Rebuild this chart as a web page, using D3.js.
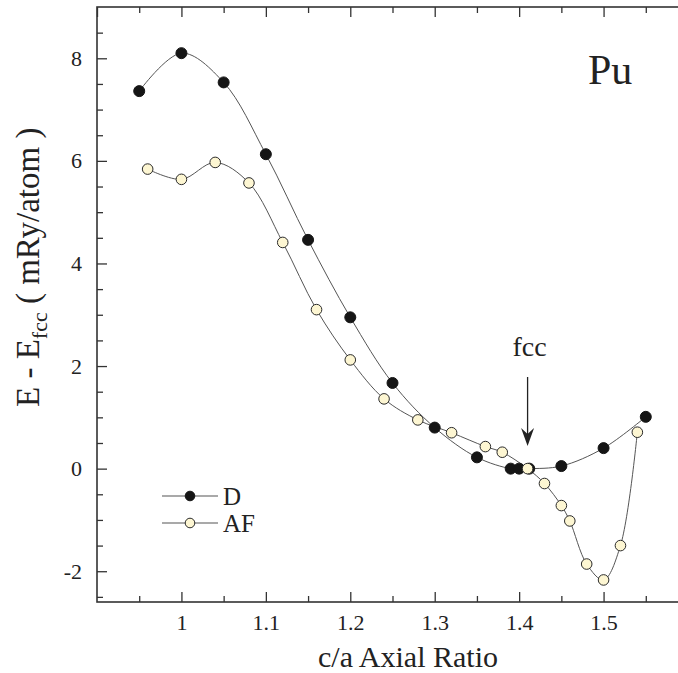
<!DOCTYPE html>
<html>
<head>
<meta charset="utf-8">
<script src="https://cdn.jsdelivr.net/npm/d3@7"></script>
<style>
  html, body { margin: 0; padding: 0; background: #fff; }
  svg { display: block; font-family: "Liberation Serif", "Times New Roman", serif; }
</style>
</head>
<body>
<svg id="chart" width="678" height="673"></svg>
<script>
// c/a axial ratio and total energy relative to fcc (mRy/atom) for Pu
const ratioD  = [0.95, 1.00, 1.05, 1.10, 1.15, 1.20, 1.25, 1.30, 1.35, 1.39, 1.40, 1.412, 1.45, 1.50, 1.55];
const energyD = [7.36, 8.10, 7.53, 6.13, 4.46, 2.95, 1.67, 0.80, 0.22, 0.00, 0.00, 0.00, 0.05, 0.40, 1.01];

const ratioAF  = [0.96, 1.00, 1.04, 1.08, 1.12, 1.16, 1.20, 1.24, 1.28, 1.32, 1.36, 1.38, 1.41, 1.43, 1.45, 1.46, 1.48, 1.50, 1.52, 1.54];
const energyAF = [5.84, 5.64, 5.97, 5.57, 4.41, 3.10, 2.12, 1.36, 0.95, 0.70, 0.43, 0.32, 0.00, -0.29, -0.72, -1.02, -1.86, -2.17, -1.50, 0.71];

const xMajorTicks = [1.0, 1.1, 1.2, 1.3, 1.4, 1.5];
const xTickLabels = ["1", "1.1", "1.2", "1.3", "1.4", "1.5"];
const yMajorTicks = [-2, 0, 2, 4, 6, 8];
const yTickLabels = ["-2", "0", "2", "4", "6", "8"];

const seriesNames = ["D", "AF"];
const fccRatio = 1.41;

const svg = d3.select("#chart");
const margin = { left: 97, top: 7, right: 688, bottom: 602 };

const x = d3.scaleLinear().domain([0.9, 1.6]).range([margin.left, margin.right]);
const y = d3.scaleLinear().domain([-2.6, 9]).range([margin.bottom, margin.top]);

const axisColor = "#333";
const majorLen = 10, minorLen = 6;

// minor tick positions
const xMinor = d3.range(0.95, 1.6, 0.1).map(v => +v.toFixed(2));
const yMinor = d3.range(-2.5, 9, 0.5).filter(v => Math.abs(v % 2) > 1e-9);

function styleAxis(g) {
  g.select(".domain").remove();
  g.selectAll(".tick line").attr("stroke", axisColor).attr("stroke-width", 1.3);
  g.selectAll(".tick text").attr("fill", "#222").attr("font-size", 22)
    .attr("font-family", "Liberation Serif, Times New Roman, serif");
}

// bottom axis: inward ticks, labels below
svg.append("g").attr("transform", `translate(0,${margin.bottom})`)
  .call(d3.axisBottom(x).tickValues(xMajorTicks).tickSize(-majorLen).tickPadding(12)
    .tickFormat((d, i) => xTickLabels[i]))
  .call(styleAxis);
svg.append("g").attr("transform", `translate(0,${margin.bottom})`)
  .call(d3.axisBottom(x).tickValues(xMinor).tickSize(-minorLen).tickFormat(""))
  .call(styleAxis);

// top axis: inward ticks, no labels
svg.append("g").attr("transform", `translate(0,${margin.top})`)
  .call(d3.axisTop(x).tickValues(xMajorTicks.concat([0.9, 1.6])).tickSize(-majorLen).tickFormat(""))
  .call(styleAxis);
svg.append("g").attr("transform", `translate(0,${margin.top})`)
  .call(d3.axisTop(x).tickValues(xMinor).tickSize(-minorLen).tickFormat(""))
  .call(styleAxis);

// left axis
svg.append("g").attr("transform", `translate(${margin.left},0)`)
  .call(d3.axisLeft(y).tickValues(yMajorTicks).tickSize(-majorLen).tickPadding(15)
    .tickFormat((d, i) => yTickLabels[i]))
  .call(styleAxis);
svg.append("g").attr("transform", `translate(${margin.left},0)`)
  .call(d3.axisLeft(y).tickValues(yMinor).tickSize(-minorLen).tickFormat(""))
  .call(styleAxis);

// right axis
svg.append("g").attr("transform", `translate(${margin.right},0)`)
  .call(d3.axisRight(y).tickValues(yMajorTicks).tickSize(-majorLen).tickFormat(""))
  .call(styleAxis);
svg.append("g").attr("transform", `translate(${margin.right},0)`)
  .call(d3.axisRight(y).tickValues(yMinor).tickSize(-minorLen).tickFormat(""))
  .call(styleAxis);

// frame
svg.append("rect")
  .attr("x", margin.left).attr("y", margin.top)
  .attr("width", margin.right - margin.left).attr("height", margin.bottom - margin.top)
  .attr("fill", "none").attr("stroke", axisColor).attr("stroke-width", 1.6);

// smooth curves through the data
const line = d3.line().x(d => x(d[0])).y(d => y(d[1])).curve(d3.curveCatmullRom.alpha(0.5));
const dataD = ratioD.map((r, i) => [r, energyD[i]]);
const dataAF = ratioAF.map((r, i) => [r, energyAF[i]]);

svg.append("path").datum(dataD).attr("d", line)
  .attr("fill", "none").attr("stroke", "#555").attr("stroke-width", 1);
svg.append("path").datum(dataAF).attr("d", line)
  .attr("fill", "none").attr("stroke", "#555").attr("stroke-width", 1);

const styleD = { fill: "#151515", stroke: "#151515" };
const styleAF = { fill: "#fdf6d2", stroke: "#2a2a2a" };

svg.append("g").selectAll("circle").data(dataD).join("circle")
  .attr("cx", d => x(d[0])).attr("cy", d => y(d[1])).attr("r", 5.5)
  .attr("fill", styleD.fill).attr("stroke", styleD.stroke).attr("stroke-width", 1);
svg.append("g").selectAll("circle").data(dataAF).join("circle")
  .attr("cx", d => x(d[0])).attr("cy", d => y(d[1])).attr("r", 5.3)
  .attr("fill", styleAF.fill).attr("stroke", styleAF.stroke).attr("stroke-width", 1);

// legend
const legend = svg.append("g");
[styleD, styleAF].forEach((s, i) => {
  const ly = 496 + i * 27;
  legend.append("line").attr("x1", 162).attr("x2", 218).attr("y1", ly).attr("y2", ly)
    .attr("stroke", "#555").attr("stroke-width", 1.2);
  legend.append("circle").attr("cx", 190).attr("cy", ly).attr("r", 4.8)
    .attr("fill", s.fill).attr("stroke", s.stroke).attr("stroke-width", 1);
  legend.append("text").attr("x", 223).attr("y", ly + 9).attr("font-size", 25)
    .attr("fill", "#222").text(seriesNames[i]);
});

// element label
svg.append("text").attr("x", 588).attr("y", 84).attr("font-size", 42)
  .attr("fill", "#222").text("Pu");

// fcc marker arrow
const ax = x(fccRatio);
svg.append("text").attr("x", ax + 2).attr("y", 356).attr("text-anchor", "middle")
  .attr("font-size", 28).attr("fill", "#222").text("fcc");
svg.append("line").attr("x1", ax).attr("x2", ax).attr("y1", 377).attr("y2", 440)
  .attr("stroke", "#222").attr("stroke-width", 1.3);
svg.append("path")
  .attr("d", `M${ax},446 L${ax - 6.5},428 L${ax},434 L${ax + 6.5},428 Z`)
  .attr("fill", "#222");

// axis titles
svg.append("text").attr("x", 408).attr("y", 667).attr("text-anchor", "middle")
  .attr("font-size", 30).attr("fill", "#222").text("c/a Axial Ratio");

const yt = svg.append("text").attr("transform", "translate(39,407) rotate(-90)")
  .attr("text-anchor", "start").attr("font-size", 33).attr("fill", "#222");
yt.append("tspan").text("E - E");
yt.append("tspan").attr("font-size", 22).attr("dy", 8).text("fcc");
yt.append("tspan").attr("dy", -8).text(" ( mRy/atom )");
</script>
</body>
</html>
